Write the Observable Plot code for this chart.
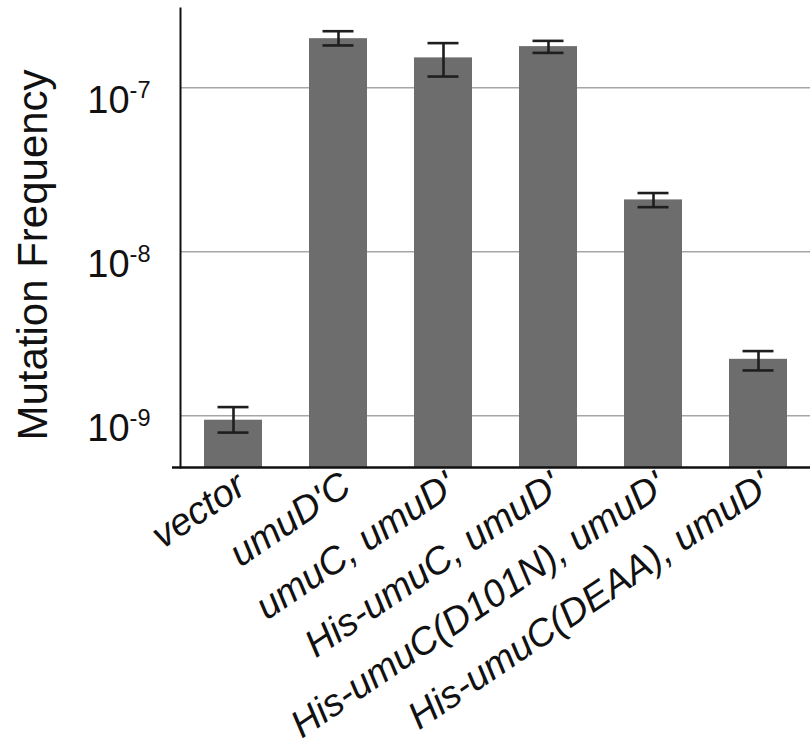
<!DOCTYPE html>
<html>
<head>
<meta charset="utf-8">
<script src="https://cdn.jsdelivr.net/npm/d3@7"></script>
<script src="https://cdn.jsdelivr.net/npm/@observablehq/plot@0.6"></script>
<style>
  html, body { margin: 0; padding: 0; background: #fff; }
  #chart { width: 810px; height: 748px; }
  svg { font-family: "Liberation Sans", Arial, sans-serif; }
</style>
</head>
<body>
<div id="chart"></div>
<script>
// Data
const categories = ["vector", "umuD'C", "umuC, umuD'", "His-umuC, umuD'", "His-umuC(D101N), umuD'", "His-umuC(DEAA), umuD'"];
const values  = [0.94e-9, 1.99e-7, 1.52e-7, 1.78e-7, 2.07e-8, 2.21e-9];
const errLow  = [0.79e-9, 1.81e-7, 1.17e-7, 1.63e-7, 1.87e-8, 1.89e-9];
const errHigh = [1.13e-9, 2.21e-7, 1.87e-7, 1.93e-7, 2.28e-8, 2.48e-9];
const yTicks  = [1e-9, 1e-8, 1e-7];
const yDomain = [4.84e-10, 3.04e-7];
const yLabel  = "Mutation Frequency";

const data = categories.map((c, i) => ({cat: c, v: values[i], lo: errLow[i], hi: errHigh[i]}));

const plot = Plot.plot({
  width: 810,
  height: 748,
  marginLeft: 180,
  marginRight: 0,
  marginTop: 8,
  marginBottom: 281,
  style: {fontFamily: "'Liberation Sans', Arial, sans-serif", background: "#fff"},
  x: {domain: categories, paddingInner: 0.45, paddingOuter: 0.225, align: 0.5},
  y: {type: "log", domain: yDomain},
  marks: [
    Plot.gridY(yTicks, {stroke: "#a6a6a6", strokeOpacity: 1, strokeWidth: 1.6}),
    Plot.barY(data, {x: "cat", y1: yDomain[0], y2: "v", fill: "#6d6d6d"}),
    Plot.ruleX(data, {x: "cat", y1: "lo", y2: "hi", stroke: "#1e1e1e", strokeWidth: 2.6}),
    Plot.tickY(data, {x: "cat", y: "lo", stroke: "#1e1e1e", strokeWidth: 2.6, insetLeft: 13.5, insetRight: 13.5}),
    Plot.tickY(data, {x: "cat", y: "hi", stroke: "#1e1e1e", strokeWidth: 2.6, insetLeft: 13.5, insetRight: 13.5}),
    Plot.axisY(yTicks, {
      tickSize: 0, tickPadding: 30, fontSize: 38, dy: 13,
      tickFormat: d => String(Math.round(Math.log10(d))), label: null, color: "#111"
    }),
    Plot.axisX({
      tickSize: 0, tickRotate: -34, tickPadding: 14, fontSize: 38, fontStyle: "italic",
      dx: 8, label: null, color: "#111"
    }),
    Plot.frame({anchor: "left", stroke: "#111", strokeWidth: 2}),
    Plot.ruleY([yDomain[0]], {stroke: "#111", strokeWidth: 2.6, insetLeft: -8}),
    Plot.text([yLabel], {
      frameAnchor: "left", rotate: -90, dx: -147, dy: 17,
      fontSize: 42, fill: "#111", textAnchor: "middle", lineAnchor: "middle"
    })
  ]
});

// superscript exponents on the y tick labels
d3.select(plot).selectAll('g[aria-label="y-axis tick label"] text').each(function() {
  const t = d3.select(this);
  const exp = t.text();
  t.text("10");
  t.append("tspan").attr("font-size", "0.62em").attr("dy", "-0.62em").text(exp);
});

document.getElementById("chart").appendChild(plot);
</script>
</body>
</html>
